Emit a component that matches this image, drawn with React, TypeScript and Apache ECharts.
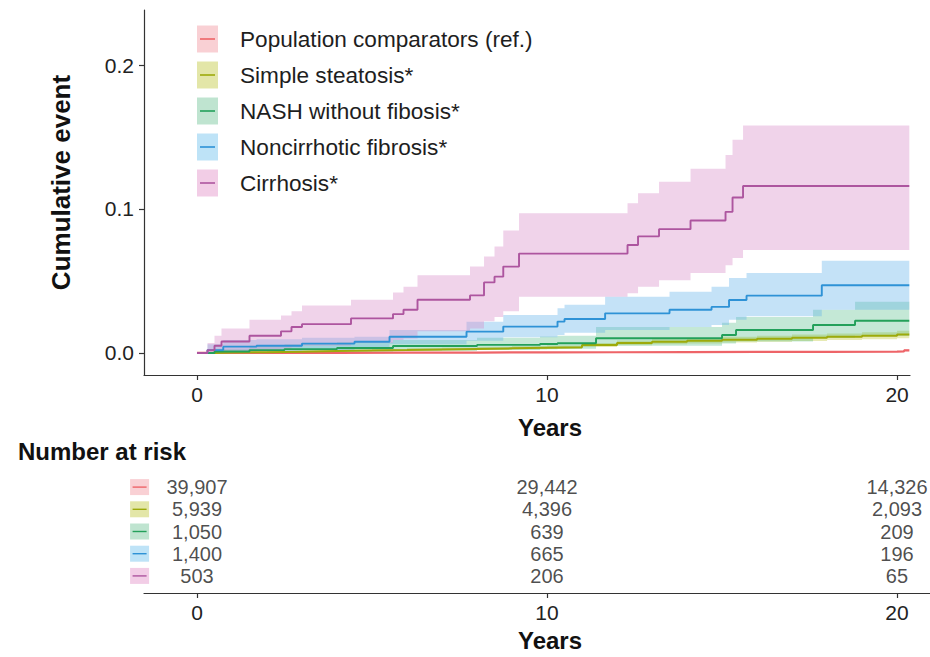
import React, { useEffect, useRef } from "react";
import * as echarts from "echarts";

const FONT = "Liberation Sans, Arial, Helvetica, sans-serif";

const GROUPS = [
  "Population comparators (ref.)",
  "Simple steatosis*",
  "NASH without fibosis*",
  "Noncirrhotic fibrosis*",
  "Cirrhosis*",
];
const LINE_COLORS = ["#EE6468", "#9DAA0A", "#23A05A", "#2E92D6", "#AD559F"];
const LINE_WIDTHS = [2.2, 2, 1.9, 1.9, 1.9];
const BAND_COLORS = [
  "rgba(240,110,115,0.35)",
  "rgba(185,195,40,0.35)",
  "rgba(60,180,120,0.30)",
  "rgba(100,180,235,0.38)",
  "rgba(215,140,200,0.38)",
];
const KEY_FILLS = ["#F9D0D4", "#E3E6A8", "#BFE4D0", "#BEE3F7", "#F2CDE6"];

// Population comparators
const popT = [0, 2, 4, 6, 8, 10, 12, 14, 16, 18, 20, 20.2, 20.35];
const popEst = [0, 0.0001, 0.0002, 0.0003, 0.0004, 0.0005, 0.0006, 0.0007, 0.0008, 0.0009, 0.0011, 0.0018, 0.0018];
const popLo = [0, 0, 0.0001, 0.0002, 0.0003, 0.0003, 0.0004, 0.0005, 0.0006, 0.0006, 0.0007, 0.0012, 0.0012];
const popHi = [0, 0.0003, 0.0004, 0.0005, 0.0006, 0.0007, 0.0008, 0.0009, 0.001, 0.0012, 0.0015, 0.0025, 0.0025];

// Simple steatosis
const stT = [0, 0.5, 1, 2, 3, 4, 5, 6, 7, 8, 9, 10, 11, 12, 13, 14, 15, 16, 17, 18, 19, 20, 20.35];
const stEst = [0, 0.0003, 0.0005, 0.0009, 0.0013, 0.0017, 0.002, 0.0024, 0.0028, 0.0032, 0.0036, 0.004, 0.0055, 0.007, 0.0078, 0.0085, 0.0092, 0.0099, 0.0106, 0.0113, 0.012, 0.0128, 0.0128];
const stLo = [0, 0.0001, 0.0002, 0.0005, 0.0008, 0.0011, 0.0013, 0.0016, 0.0019, 0.0022, 0.0025, 0.0028, 0.0041, 0.0054, 0.006, 0.0066, 0.0072, 0.0078, 0.0084, 0.009, 0.0096, 0.0102, 0.0102];
const stHi = [0, 0.0006, 0.0009, 0.0014, 0.0018, 0.0023, 0.0027, 0.0032, 0.0037, 0.0042, 0.0047, 0.0052, 0.0069, 0.0086, 0.0096, 0.0104, 0.0112, 0.012, 0.0128, 0.0136, 0.0144, 0.0154, 0.0154];

// NASH without fibrosis
const naT = [0, 0.5, 1.5, 2.5, 4, 5.6, 8, 9.8, 10.3, 11.4, 15.0, 15.4, 17.6, 18.8, 20.35];
const naEst = [0, 0.001, 0.002, 0.0027, 0.0035, 0.0048, 0.0056, 0.0062, 0.0067, 0.0102, 0.0125, 0.016, 0.0194, 0.0224, 0.0224];
const naLo = [0, 0, 0.0003, 0.0006, 0.001, 0.0015, 0.002, 0.0025, 0.003, 0.005, 0.0065, 0.008, 0.0105, 0.012, 0.012];
const naHi = [0, 0.003, 0.005, 0.006, 0.0075, 0.009, 0.0105, 0.0115, 0.012, 0.018, 0.021, 0.025, 0.03, 0.0356, 0.0356];

// Noncirrhotic fibrosis
const ncT = [0, 0.3, 0.75, 1.7, 3.0, 4.5, 5.5, 7.7, 8.75, 10.3, 10.5, 11.66, 13.5, 14.7, 15.2, 15.7, 17.85, 20.35];
const ncEst = [0, 0.002, 0.0044, 0.005, 0.0065, 0.0078, 0.0113, 0.0148, 0.0183, 0.0218, 0.0236, 0.0275, 0.03, 0.032, 0.0368, 0.0398, 0.047, 0.047];
const ncLo = [0, 0, 0.001, 0.0015, 0.002, 0.003, 0.006, 0.0085, 0.011, 0.0125, 0.014, 0.016, 0.018, 0.0195, 0.023, 0.0255, 0.03, 0.03];
const ncHi = [0, 0.006, 0.009, 0.0095, 0.0105, 0.0113, 0.016, 0.0217, 0.0264, 0.031, 0.0335, 0.039, 0.0426, 0.046, 0.052, 0.0555, 0.064, 0.064];

// Cirrhosis
const ciT = [0, 0.3, 0.5, 0.7, 1.5, 2.4, 2.7, 3.0, 4.4, 5.6, 5.9, 6.3, 7.8, 8.2, 8.5, 8.75, 9.2, 12.3, 12.6, 13.2, 14.1, 15.1, 15.3, 15.6, 20.35];
const ciEst = [0, 0.002, 0.005, 0.008, 0.012, 0.015, 0.018, 0.02, 0.024, 0.027, 0.03, 0.037, 0.04, 0.049, 0.053, 0.06, 0.069, 0.075, 0.081, 0.086, 0.092, 0.098, 0.108, 0.116, 0.116];
const ciLo = [0, 0, 0.0005, 0.001, 0.002, 0.003, 0.004, 0.005, 0.007, 0.009, 0.01, 0.015, 0.017, 0.022, 0.025, 0.029, 0.039, 0.0415, 0.046, 0.0505, 0.0555, 0.061, 0.066, 0.0715, 0.0715];
const ciHi = [0, 0.007, 0.012, 0.017, 0.023, 0.026, 0.029, 0.033, 0.037, 0.042, 0.046, 0.054, 0.06, 0.067, 0.074, 0.085, 0.097, 0.104, 0.111, 0.119, 0.128, 0.1375, 0.148, 0.158, 0.158];

// Number at risk
const RISK_TIMES = [0, 10, 20];
const riskPop = ["39,907", "29,442", "14,326"];
const riskSteat = ["5,939", "4,396", "2,093"];
const riskNash = ["1,050", "639", "209"];
const riskNonc = ["1,400", "665", "196"];
const riskCirr = ["503", "206", "65"];

const X_TICKS = [0, 10, 20];
const Y_TICKS = [0, 0.1, 0.2];

const CURVES = [
  { t: popT, est: popEst, lo: popLo, hi: popHi },
  { t: stT, est: stEst, lo: stLo, hi: stHi },
  { t: naT, est: naEst, lo: naLo, hi: naHi },
  { t: ncT, est: ncEst, lo: ncLo, hi: ncHi },
  { t: ciT, est: ciEst, lo: ciLo, hi: ciHi },
];
const RISK = [riskPop, riskSteat, riskNash, riskNonc, riskCirr];

export default function App() {
  const ref = useRef<HTMLDivElement>(null);
  useEffect(() => {
    if (!ref.current) return;
    const chart = echarts.init(ref.current, undefined, { renderer: "svg" });

    const axisLine = { show: true, onZero: false, lineStyle: { color: "#333", width: 1.2 } };
    const axisTick = (vals: number[]) => ({
      show: true,
      length: 5,
      lineStyle: { color: "#333", width: 1.2 },
      customValues: vals,
    });

    const bandSeries = CURVES.map((c, idx) => ({
      type: "custom",
      xAxisIndex: 0,
      yAxisIndex: 0,
      silent: true,
      z: 1,
      data: c.t.map((x, j) => [x, c.lo[j], c.hi[j]]),
      renderItem: (params: any, api: any) => {
        if (params.dataIndex !== 0) return null;
        const up: number[][] = [];
        const dn: number[][] = [];
        for (let j = 0; j < c.t.length; j++) {
          const x0 = c.t[j];
          const x1 = j + 1 < c.t.length ? c.t[j + 1] : c.t[j];
          up.push(api.coord([x0, c.hi[j]]), api.coord([x1, c.hi[j]]));
          dn.push(api.coord([x0, c.lo[j]]), api.coord([x1, c.lo[j]]));
        }
        return {
          type: "polygon",
          shape: { points: up.concat(dn.reverse()) },
          style: { fill: BAND_COLORS[idx] },
        };
      },
    }));

    const lineSeries = CURVES.map((c, idx) => ({
      type: "line",
      name: GROUPS[idx],
      xAxisIndex: 0,
      yAxisIndex: 0,
      step: "end",
      symbol: "none",
      z: 3,
      lineStyle: { color: LINE_COLORS[idx], width: LINE_WIDTHS[idx] },
      data: c.t.map((x, j) => [x, c.est[j]]),
    }));

    const riskLabels = {
      type: "scatter",
      xAxisIndex: 1,
      yAxisIndex: 1,
      symbolSize: 1,
      itemStyle: { color: "rgba(0,0,0,0)" },
      silent: true,
      label: {
        show: true,
        position: "inside",
        formatter: "{b}",
        fontFamily: FONT,
        fontSize: 20,
        color: "#1e1e1e",
      },
      data: RISK.flatMap((row, r) =>
        RISK_TIMES.map((t, k) => ({ name: row[k], value: [t, r] }))
      ),
    };

    const riskKeys = {
      type: "custom",
      xAxisIndex: 1,
      yAxisIndex: 1,
      silent: true,
      clip: false,
      data: GROUPS.map((_, r) => [-1.64, r]),
      renderItem: (params: any, api: any) => {
        const p = api.coord([api.value(0), api.value(1)]);
        const r = params.dataIndex;
        return {
          type: "group",
          children: [
            {
              type: "rect",
              shape: { x: p[0] - 9.5, y: p[1] - 8, width: 19, height: 16 },
              style: { fill: KEY_FILLS[r] },
            },
            {
              type: "line",
              shape: { x1: p[0] - 7, y1: p[1], x2: p[0] + 7, y2: p[1] },
              style: { stroke: LINE_COLORS[r], lineWidth: 1.4 },
            },
          ],
        };
      },
    };

    const legendGraphics = GROUPS.map((g, i) => {
      const cy = 39 + 36 * i;
      return {
        type: "group",
        children: [
          {
            type: "rect",
            shape: { x: 197, y: cy - 13.5, width: 21, height: 27 },
            style: { fill: KEY_FILLS[i] },
          },
          {
            type: "line",
            shape: { x1: 200, y1: cy, x2: 215, y2: cy },
            style: { stroke: LINE_COLORS[i], lineWidth: 1.6 },
          },
          {
            type: "text",
            x: 240,
            y: cy,
            style: {
              text: g,
              fontFamily: FONT,
              fontSize: 22.6,
              fill: "#1e1e1e",
              verticalAlign: "middle",
              align: "left",
            },
          },
        ],
      };
    });

    chart.setOption({
      animation: false,
      backgroundColor: "#fff",
      textStyle: { fontFamily: FONT },
      title: {
        text: "Number at risk",
        left: 18,
        top: 439,
        padding: 0,
        textStyle: { fontFamily: FONT, fontSize: 24, fontWeight: "bold", color: "#111" },
      },
      grid: [
        { left: 144, top: 10, width: 766, height: 365 },
        { left: 144, top: 476, width: 786, height: 117 },
      ],
      xAxis: [
        {
          type: "value",
          gridIndex: 0,
          min: -1.514,
          max: 20.37,
          axisLine: axisLine,
          axisTick: axisTick(X_TICKS),
          splitLine: { show: false },
          axisLabel: {
            customValues: X_TICKS,
            fontFamily: FONT,
            fontSize: 21,
            color: "#222",
            margin: 9,
          },
          name: "Years",
          nameLocation: "middle",
          nameGap: 40,
          nameTextStyle: {
            fontFamily: FONT,
            fontSize: 24,
            fontWeight: "bold",
            color: "#111",
            padding: [0, 0, 0, 46],
          },
        },
        {
          type: "value",
          gridIndex: 1,
          min: -1.514,
          max: 20.943,
          axisLine: axisLine,
          axisTick: axisTick(X_TICKS),
          splitLine: { show: false },
          axisLabel: {
            customValues: X_TICKS,
            fontFamily: FONT,
            fontSize: 21,
            color: "#222",
            margin: 9,
          },
          name: "Years",
          nameLocation: "middle",
          nameGap: 35,
          nameTextStyle: {
            fontFamily: FONT,
            fontSize: 24,
            fontWeight: "bold",
            color: "#111",
            padding: [0, 0, 0, 26],
          },
        },
      ],
      yAxis: [
        {
          type: "value",
          gridIndex: 0,
          min: -0.0153,
          max: 0.2382,
          axisLine: axisLine,
          axisTick: axisTick(Y_TICKS),
          splitLine: { show: false },
          axisLabel: {
            customValues: Y_TICKS,
            formatter: (v: number) => v.toFixed(1),
            fontFamily: FONT,
            fontSize: 21,
            color: "#222",
            margin: 10,
          },
          name: "Cumulative event",
          nameLocation: "middle",
          nameRotate: 90,
          nameGap: 70,
          nameTextStyle: {
            fontFamily: FONT,
            fontSize: 26,
            fontWeight: "bold",
            color: "#111",
            padding: [0, 0, 0, 20],
          },
        },
        {
          type: "value",
          gridIndex: 1,
          min: -0.5,
          max: 4.77,
          inverse: true,
          show: false,
        },
      ],
      graphic: legendGraphics,
      series: [...bandSeries, ...lineSeries, riskLabels, riskKeys],
    });

    return () => chart.dispose();
  }, []);

  return (
    <div
      ref={ref}
      style={{ position: "fixed", left: 0, top: 0, width: 930, height: 657, background: "#fff" }}
    />
  );
}
